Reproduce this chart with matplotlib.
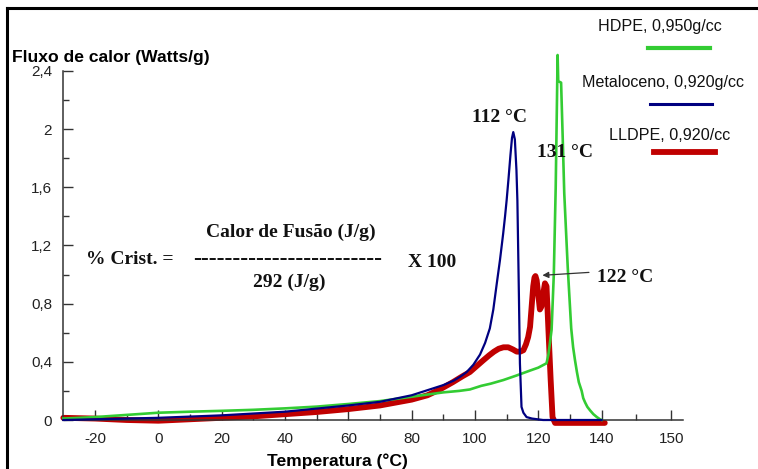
import matplotlib
matplotlib.use("Agg")
import matplotlib.pyplot as plt
from matplotlib.lines import Line2D

# curves (temperature in C, heat flow in W/g)
hdpeTemp = [-30, -20, -10, 0, 10, 20, 30, 40, 50, 60, 70, 80, 90, 95, 98.4, 102, 105, 109, 113,
            117.4, 120, 122.6, 123.2, 124.2, 124.9, 125.5, 125.9, 126.1, 126.3, 127.2, 127.7,
            128.2, 128.8, 129.3, 129.9, 130.4, 131.0, 131.6, 132.2, 132.8, 133.7, 134.2, 134.8,
            135.5, 136.4, 137.4, 138.5, 139.5, 140]
hdpeFlux = [0.01, 0.02, 0.035, 0.05, 0.057, 0.063, 0.07, 0.08, 0.092, 0.11, 0.13, 0.16, 0.19,
            0.20, 0.21, 0.235, 0.25, 0.275, 0.305, 0.34, 0.36, 0.39, 0.45, 0.62, 1.0, 1.6, 2.2,
            2.51, 2.33, 2.32, 1.95, 1.56, 1.28, 1.05, 0.82, 0.63, 0.50, 0.41, 0.33, 0.26, 0.20,
            0.15, 0.12, 0.09, 0.065, 0.04, 0.02, 0.005, 0.0]

metaTemp = [-30, -20, 0, 20, 40, 60, 70, 80, 90, 93.2, 95.5, 97.4, 99.5, 101.6, 103.2, 104.7,
            105.8, 106.9, 107.9, 108.9, 109.5, 110, 110.6, 111.2, 111.7, 112.1, 112.6, 113.1,
            113.4, 113.9, 114.2, 114.7, 115.3, 116.3, 118, 121.5, 130, 140]
metaFlux = [0.0, 0.005, 0.015, 0.032, 0.057, 0.10, 0.125, 0.17, 0.24, 0.27, 0.30, 0.33, 0.38,
            0.45, 0.53, 0.63, 0.76, 0.94, 1.10, 1.28, 1.40, 1.51, 1.66, 1.82, 1.94, 1.98, 1.93,
            1.72, 1.51, 0.83, 0.39, 0.09, 0.05, 0.02, 0.01, 0.0, 0.0, 0.0]

llTemp = [-30, -20, -10, 0, 10, 20, 30, 40, 50, 60, 70, 80, 85, 88.9, 93, 96, 98.4, 100.5,
          102.6, 104.5, 106, 107.5, 109, 110.5, 112, 113.2, 114.3, 115.3, 116.1, 116.8, 117.4,
          117.9, 118.4, 118.8, 119.1, 119.5, 119.9, 120.5, 121.0, 121.5, 122.1, 122.6, 123.2,
          123.9, 124.5, 125.3, 130, 135, 141]
llFlux = [0.015, 0.01, 0.0, -0.005, 0.005, 0.015, 0.025, 0.04, 0.055, 0.075, 0.10, 0.14, 0.17,
          0.21, 0.26, 0.30, 0.33, 0.37, 0.41, 0.445, 0.47, 0.49, 0.50, 0.50, 0.485, 0.47, 0.47,
          0.48, 0.52, 0.57, 0.64, 0.78, 0.92, 0.98, 0.99, 0.96, 0.88, 0.76, 0.78, 0.86, 0.94,
          0.92, 0.62, 0.28, 0.02, -0.02, -0.02, -0.02, -0.02]

seriesNames = ["HDPE, 0,950g/cc", "Metaloceno, 0,920g/cc", "LLDPE, 0,920/cc"]
seriesColors = ["#33cc33", "#000080", "#c00000"]

xTicks = [-20, 0, 20, 40, 60, 80, 100, 120, 140, 162]
xTickLabels = ["-20", "0", "20", "40", "60", "80", "100", "120", "140", "150"]
xMinor = [-10, 10, 30, 50, 70, 90, 110, 130, 151]
yTicks = [0, 0.4, 0.8, 1.2, 1.6, 2.0, 2.4]
yTickLabels = ["0", "0,4", "0,8", "1,2", "1,6", "2", "2,4"]
yMinor = [0.2, 0.6, 1.0, 1.4, 1.8, 2.2]

W, H = 758, 469
def fx(x):
    return x / W
def fy(y):
    return 1 - y / H

sans = "Liberation Sans"
serif = "Liberation Serif"

fig = plt.figure(figsize=(W / 100, H / 100), dpi=100)
ax = fig.add_axes([fx(63.3), fy(420), (683 - 63.3) / W, (420 - 71) / H])

ax.plot(hdpeTemp, hdpeFlux, color=seriesColors[0], lw=1.9, clip_on=False, zorder=3)
ax.plot(metaTemp, metaFlux, color=seriesColors[1], lw=1.6, clip_on=False, zorder=4)
ax.plot(llTemp, llFlux, color=seriesColors[2], lw=4.2, clip_on=False, zorder=2,
        solid_capstyle="round", solid_joinstyle="round")

ax.set_xlim(-30, 165.7)
ax.set_ylim(0, 2.4)
for s in ["top", "right"]:
    ax.spines[s].set_visible(False)
for s in ["left", "bottom"]:
    ax.spines[s].set_color("#333333")
    ax.spines[s].set_linewidth(1.1)

ax.set_xticks(xTicks)
ax.set_xticklabels(xTickLabels)
ax.set_xticks(xMinor, minor=True)
ax.set_yticks(yTicks)
ax.set_yticklabels(yTickLabels)
ax.set_yticks(yMinor, minor=True)
ax.tick_params(which="both", direction="in", color="#333333", width=1.0,
               labelsize=11, labelcolor="#222222", labelfontfamily=sans)
ax.tick_params(which="major", length=7.2)
ax.tick_params(which="minor", length=4.3)
ax.tick_params(axis="x", pad=8.5)
ax.tick_params(axis="y", pad=8)

# axis titles
fig.text(fx(12), fy(62), "Fluxo de calor (Watts/g)", family=sans, weight="bold",
         fontsize=12.6, va="baseline", ha="left")
fig.text(fx(337.5), fy(465.5), "Temperatura (°C)", family=sans, weight="bold",
         fontsize=12.6, va="baseline", ha="center")

# crystallinity formula
tk = dict(family=serif, weight="bold", fontsize=14, color="#111111")
ax.text(41.9, 1.259, "Calor de Fusão (J/g)", ha="center", va="baseline", **tk)
ax.text(-22.8, 1.073, "% Crist. =", ha="left", va="baseline", **tk)
ax.text(40.8, 1.068, "-" * 24, ha="center", va="baseline", family=serif, weight="bold",
        fontsize=17, color="#111111")
ax.text(41.3, 0.915, "292 (J/g)", ha="center", va="baseline", **tk)
ax.text(79.0, 1.055, "X 100", ha="left", va="baseline", **tk)

# peak labels
ax.text(107.6, 2.08, "112 °C", ha="center", va="center", **tk)
ax.text(128.3, 1.84, "131 °C", ha="center", va="center", **tk)
ax.text(147.4, 0.98, "122 °C", ha="center", va="center", **tk)
ax.annotate("", xy=(121.3, 0.995), xytext=(136.0, 1.015),
            arrowprops=dict(arrowstyle="-|>", color="#333333", lw=0.9,
                            mutation_scale=9, shrinkA=0, shrinkB=0))

# legend drawn as text with a bar under each entry
legendText = [(660, 26), (662.5, 83), (669.5, 135)]
legendBars = [(648, 710, 48, 3.0), (650, 712, 104, 2.2), (654, 715, 152, 4.2)]
for name, color, (tx, ty), (x0, x1, by, lw) in zip(seriesNames, seriesColors, legendText, legendBars):
    fig.text(fx(tx), fy(ty), name, family=sans, fontsize=11.6, ha="center", va="center",
             color="#111111")
    fig.add_artist(Line2D([fx(x0), fx(x1)], [fy(by), fy(by)], color=color, lw=lw))

# frame of the original screenshot (left and top edges)
fig.add_artist(Line2D([fx(7), fx(7)], [0, fy(8)], color="black", lw=2.2))
fig.add_artist(Line2D([fx(7), 1], [fy(8), fy(8)], color="black", lw=2.2))

fig.savefig("out.png", dpi=100)
